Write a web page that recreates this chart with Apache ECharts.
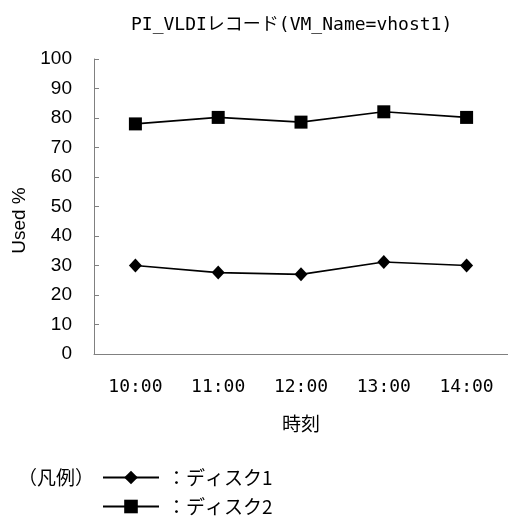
<!DOCTYPE html>
<html><head><meta charset="utf-8">
<script src="https://cdn.jsdelivr.net/npm/echarts@6/dist/echarts.min.js"></script>
<style>html,body{margin:0;padding:0;background:#fff}#c{width:508px;height:522px}</style>
</head><body><div id="c"></div>
<script>
const categories = ['10:00', '11:00', '12:00', '13:00', '14:00'];
const disk1 = [30, 27.6, 27.0, 31.2, 30];
const disk2 = [78, 80.2, 78.6, 82.1, 80.2];
const seriesNames = ['ディスク1', 'ディスク2'];
const yTicks = { min: 0, max: 100, interval: 10 };

const MONO = "'DejaVu Sans Mono','Noto Sans CJK JP',monospace";
const CJK = "'Noto Sans CJK JP',sans-serif";
const SANS = "'Liberation Sans',Arial,sans-serif";

function legendAt(name, top) {
  return {
    orient: 'horizontal', left: 97, top: top, itemWidth: 56, itemHeight: 17,
    data: [name], selectedMode: false,
    formatter: '：{name}',
    textStyle: { fontFamily: CJK, fontSize: 19, color: '#000', padding: [0, 0, 0, 3] }
  };
}

const chart = echarts.init(document.getElementById('c'), null, { renderer: 'canvas' });
chart.setOption({
  animation: false,
  backgroundColor: '#fff',
  title: {
    text: 'PI_VLDIレコード(VM_Name=vhost1)',
    left: 126, top: 11,
    textStyle: { fontFamily: MONO, fontSize: 18, fontWeight: 'normal', color: '#000' }
  },
  grid: { left: 94, right: 0, top: 59, bottom: 168, containLabel: false },
  legend: [legendAt(seriesNames[0], 463), legendAt(seriesNames[1], 492)],
  graphic: [{
    type: 'text', left: 18, top: 468,
    style: { text: '（凡例）', font: "19px 'Noto Sans CJK JP'", fill: '#000' }
  }],
  xAxis: {
    type: 'category', data: categories, boundaryGap: true,
    name: '時刻', nameLocation: 'middle', nameGap: 60,
    nameTextStyle: { fontFamily: CJK, fontSize: 19, color: '#000' },
    axisLine: { lineStyle: { color: '#808080', width: 1 } },
    axisTick: { inside: true, length: 5, lineStyle: { color: '#808080' } },
    axisLabel: { fontFamily: MONO, fontSize: 18, color: '#000', margin: 24 },
    splitLine: { show: false }
  },
  yAxis: {
    type: 'value', min: yTicks.min, max: yTicks.max, interval: yTicks.interval,
    name: 'Used %', nameLocation: 'middle', nameGap: 62, nameRotate: 90,
    nameTextStyle: { fontFamily: SANS, fontSize: 19, color: '#000', padding: [0, 28, 0, 0] },
    axisLine: { show: true, lineStyle: { color: '#808080', width: 1 } },
    axisTick: { show: true, inside: true, length: 5, lineStyle: { color: '#808080' } },
    axisLabel: { fontFamily: SANS, fontSize: 19, color: '#000', margin: 22 },
    splitLine: { show: false }
  },
  series: [
    {
      name: seriesNames[0], type: 'line', data: disk1,
      symbol: 'diamond', symbolSize: [13, 14],
      itemStyle: { color: '#000' }, lineStyle: { color: '#000', width: 1.6 }
    },
    {
      name: seriesNames[1], type: 'line', data: disk2,
      symbol: 'rect', symbolSize: 13,
      itemStyle: { color: '#000' }, lineStyle: { color: '#000', width: 1.6 }
    }
  ]
});
</script></body></html>
